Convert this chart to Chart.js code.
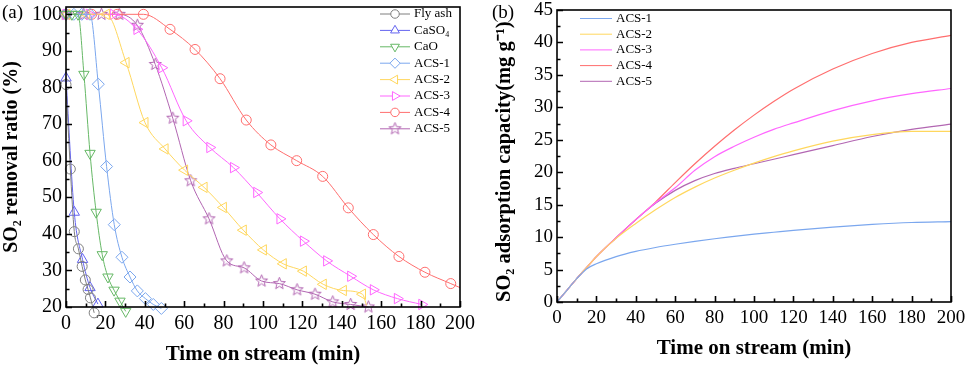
<!DOCTYPE html>
<html>
<head>
<meta charset="utf-8">
<script src="https://cdn.jsdelivr.net/npm/chart.js@4.4.1/dist/chart.umd.min.js"></script>
<style>
body { margin: 0; background: #fff; width: 969px; height: 369px; overflow: hidden; position: relative; }
#wrapA { position: absolute; left: 0; top: 0; width: 480px; height: 369px; }
#wrapB { position: absolute; left: 480px; top: 0; width: 489px; height: 369px; }
.tag { position: absolute; font: 19px "Liberation Serif", serif; color: #000; line-height: 22px; }
</style>
</head>
<body>
<div id="wrapA"><canvas id="chartA"></canvas></div>
<div id="wrapB"><canvas id="chartB"></canvas></div>
<div class="tag" style="left:2px;top:1px">(a)</div>
<div class="tag" style="left:492px;top:1px">(b)</div>
<script>
// (a) SO2 removal ratio vs time
var flyAshT = [0, 2.2, 4.2, 6.3, 8.2, 9.8, 11.2, 12.4, 14.3];
var flyAshV = [80.8, 57.7, 40.6, 35.9, 31.1, 27.4, 24.8, 22.5, 18.4];
var caso4T = [0, 4.2, 8.4, 12.2, 16.2];
var caso4V = [82.6, 45.9, 33.0, 25.3, 20.8];
var caoT = [0, 3, 6.1, 9.1, 12.2, 15.3, 18.4, 21.3, 24.4, 27.4, 30.3];
var caoV = [100, 100, 100, 83.6, 62.0, 45.9, 34.3, 28.2, 24.6, 21.6, 18.8];
var acs1T = [0, 4, 8, 12.2, 16.4, 20.6, 24.5, 28.4, 32.5, 36.2, 40.3, 44.3, 48.4];
var acs1V = [100, 100, 100, 100, 80.9, 58.4, 42.5, 33.6, 28.2, 24.4, 22.3, 20.7, 19.6];
var acs2T = [0.5, 10.5, 20.5, 30.5, 40.1, 50.3, 60.2, 70.1, 79.9, 90, 100.2, 110.3, 120.5, 130.6, 140.8, 150.5, 152.6];
var acs2V = [100, 100, 100, 86.8, 70.4, 63.2, 57.4, 52.7, 47.2, 41.0, 35.6, 31.8, 29.8, 26.2, 24.5, 23.5, 20.4];
var acs3T = [0, 12, 24, 36, 48.6, 61, 73, 85, 96.8, 108.6, 120.5, 132.3, 144.5, 156, 168.2, 180.6];
var acs3V = [100, 100, 100, 95.9, 85.4, 70.9, 63.6, 58.1, 51.3, 44.1, 38.0, 32.6, 28.4, 24.7, 22.3, 20.7];
var acs4T = [0, 13, 26, 39.3, 52.8, 65.5, 78.2, 91.5, 104, 117.1, 130.3, 143.3, 156, 169, 182.2, 195.3, 200];
var acs4V = [100, 100, 100, 100, 95.9, 90.4, 82.4, 71.1, 64.3, 60.0, 55.7, 47.1, 39.8, 33.8, 29.5, 26.4, 25.3];
var acs5T = [0, 9, 18, 27, 36.2, 45.3, 54.2, 63.3, 72.6, 81.6, 90.4, 99.3, 108.3, 117.3, 126.4, 135.4, 144.5, 153.5];
var acs5V = [100, 100, 100, 100, 97.0, 86.3, 71.6, 54.5, 44.1, 32.6, 30.7, 27.1, 26.4, 24.7, 23.5, 21.4, 20.7, 20.0];

// (b) SO2 adsorption capacity vs time
var timeB = [0, 5, 10, 15, 20, 30, 40, 50, 60, 70, 80, 90, 100, 110, 120, 140, 160, 180, 200];
var capACS1 = [0, 1.8, 3.6, 5.1, 5.9, 7.0, 7.8, 8.4, 8.9, 9.35, 9.75, 10.1, 10.45, 10.75, 11.05, 11.55, 11.95, 12.25, 12.4];
var capACS2 = [0, 1.8, 3.6, 5.3, 7.0, 9.8, 12.1, 14.2, 16.1, 17.7, 19.1, 20.3, 21.4, 22.4, 23.3, 24.8, 25.8, 26.3, 26.3];
var capACS3 = [0, 1.8, 3.6, 5.3, 7.0, 9.9, 12.7, 15.3, 17.6, 20.3, 22.4, 24.0, 25.4, 26.6, 27.6, 29.5, 31.0, 32.1, 32.9];
var capACS4 = [0, 1.8, 3.6, 5.3, 7.0, 9.9, 12.7, 15.4, 18.4, 21.3, 24.0, 26.5, 28.8, 30.9, 32.8, 35.9, 38.3, 40.0, 41.1];
var capACS5 = [0, 1.8, 3.6, 5.3, 7.0, 9.9, 12.7, 15.2, 17.2, 18.7, 19.8, 20.6, 21.3, 22.0, 22.7, 24.1, 25.5, 26.6, 27.4];

var xTicks = [0, 20, 40, 60, 80, 100, 120, 140, 160, 180, 200];

var cGray = '#7f7f7f', cBlue = '#6464f0', cGreen = '#66b866', cSky = '#7ba7ee';
var cYellow = '#ffd75e', cPink = '#ff66ff', cRed = '#ff6e6e', cPurple = '#b266b2';

Chart.defaults.font.family = '"Liberation Serif", "Times New Roman", serif';
Chart.defaults.color = '#000';

function starImage(color) {
    var c = document.createElement('canvas');
    c.width = 15; c.height = 15;
    var g = c.getContext('2d');
    g.strokeStyle = color;
    g.lineWidth = 1;
    g.beginPath();
    for (var k = 0; k < 10; k++) {
        var rr = k % 2 ? 2.7 : 6.3;
        var ang = -Math.PI / 2 + k * Math.PI / 5;
        var px = 7.5 + rr * Math.cos(ang), py = 7.5 + rr * Math.sin(ang);
        if (k == 0) g.moveTo(px, py); else g.lineTo(px, py);
    }
    g.closePath();
    g.stroke();
    return c;
}

function series(label, t, v, color, style, rot, r, marks) {
    if (marks == null) marks = t.length;
    return {
        label: label,
        data: t.map(function (tt, i) { return { x: tt, y: v[i] }; }),
        borderColor: color,
        backgroundColor: 'rgba(0,0,0,0)',
        borderWidth: 1,
        pointStyle: style,
        pointRotation: rot,
        markR: r,
        pointRadius: function (c) { return c.dataIndex < marks ? r : 0; },
        pointBorderColor: color,
        pointBackgroundColor: 'rgba(0,0,0,0)',
        pointBorderWidth: 1,
        cubicInterpolationMode: 'monotone',
        clip: false
    };
}

function capLine(label, v, color) {
    return {
        label: label,
        data: timeB.map(function (tt, i) { return { x: tt, y: v[i] }; }),
        borderColor: color,
        borderWidth: 1.2,
        pointRadius: 0,
        cubicInterpolationMode: 'monotone'
    };
}

// frame round the plot area plus inward major/minor ticks
var boxTicks = {
    id: 'boxTicks',
    afterDatasetsDraw: function (chart, args, o) {
        var ctx = chart.ctx, a = chart.chartArea, x = chart.scales.x, y = chart.scales.y;
        ctx.save();
        ctx.strokeStyle = '#000';
        ctx.lineWidth = 1.6;
        ctx.strokeRect(a.left, a.top, a.right - a.left, a.bottom - a.top);
        ctx.beginPath();
        for (var v = o.xMin; v <= o.xMax + 1e-6; v += o.xStep / 2) {
            var px = Math.round(x.getPixelForValue(v)) + 0.5;
            var len = Math.abs(v % o.xStep) < 1e-6 ? 6 : 3.5;
            ctx.moveTo(px, a.bottom); ctx.lineTo(px, a.bottom - len);
        }
        for (var w = o.yMin; w <= o.yMax + 1e-6; w += o.yStep / 2) {
            var py = Math.round(y.getPixelForValue(w)) + 0.5;
            var len2 = Math.abs((w - o.yMin) % o.yStep) < 1e-6 ? 6 : 3.5;
            ctx.moveTo(a.left, py); ctx.lineTo(a.left + len2, py);
        }
        ctx.stroke();
        ctx.restore();
    }
};

var insideLegend = {
    id: 'insideLegend',
    afterDraw: function (chart, args, o) {
        var ctx = chart.ctx;
        ctx.save();
        ctx.font = '13px "Liberation Serif", serif';
        ctx.textBaseline = 'middle';
        chart.data.datasets.forEach(function (ds, i) {
            var yy = o.y + i * o.gap;
            ctx.strokeStyle = ds.borderColor;
            ctx.lineWidth = 1;
            ctx.beginPath();
            ctx.moveTo(o.x, yy); ctx.lineTo(o.x + o.len, yy);
            ctx.stroke();
            if (o.markers) {
                ctx.fillStyle = '#fff';
                Chart.helpers.drawPoint(ctx, {
                    pointStyle: ds.pointStyle, rotation: ds.pointRotation,
                    radius: ds.markR * 0.85, borderWidth: 1
                }, o.x + o.len / 2, yy);
            }
            ctx.fillStyle = '#000';
            ctx.fillText(ds.label, o.x + o.len + 4, yy);
        });
        ctx.restore();
    }
};

function noPad(s) { s.paddingTop = 0; s.paddingBottom = 0; s.paddingLeft = 0; s.paddingRight = 0; }

var chartA = new Chart(document.getElementById('chartA'), {
    type: 'line',
    data: {
        datasets: [
            series('Fly ash', flyAshT, flyAshV, cGray, 'circle', 0, 5),
            series('CaSO₄', caso4T, caso4V, cBlue, 'triangle', 0, 6),
            series('CaO', caoT, caoV, cGreen, 'triangle', 180, 6),
            series('ACS-1', acs1T, acs1V, cSky, 'rectRot', 0, 6),
            series('ACS-2', acs2T, acs2V, cYellow, 'triangle', 270, 6, 16),
            series('ACS-3', acs3T, acs3V, cPink, 'triangle', 90, 6),
            series('ACS-4', acs4T, acs4V, cRed, 'circle', 0, 5, 16),
            series('ACS-5', acs5T, acs5V, cPurple, starImage(cPurple), 0, 6)
        ]
    },
    options: {
        animation: false,
        responsive: true,
        maintainAspectRatio: false,
        devicePixelRatio: 1,
        events: [],
        layout: { padding: { top: 5, right: 20, bottom: 0, left: 0 } },
        plugins: {
            legend: { display: false },
            tooltip: { enabled: false },
            boxTicks: { xMin: 0, xMax: 200, xStep: 20, yMin: 20, yMax: 100, yStep: 10 },
            insideLegend: { x: 380, len: 30, y: 14, gap: 16.4, markers: true }
        },
        scales: {
            x: {
                type: 'linear', min: 0, max: 200,
                grid: { display: false, drawTicks: false },
                border: { display: false },
                afterBuildTicks: function (s) { s.ticks = xTicks.map(function (v) { return { value: v }; }); },
                ticks: { font: { size: 20 }, padding: 5, maxRotation: 0 },
                title: { display: true, text: 'Time on stream (min)', font: { size: 21, weight: 'bold' }, padding: { top: 0, bottom: 2 } },
                afterFit: function (s) { s.height = 62; noPad(s); }
            },
            y: {
                type: 'linear', min: 20, max: 102,
                grid: { display: false, drawTicks: false },
                border: { display: false },
                ticks: { stepSize: 10, includeBounds: false, font: { size: 20 }, padding: 4 },
                title: { display: true, text: 'SO₂ removal ratio (%)', font: { size: 20, weight: 'bold' }, padding: { top: 0, bottom: 0 } },
                afterFit: function (s) { s.width = 66; noPad(s); }
            }
        }
    },
    plugins: [boxTicks, insideLegend]
});

var chartB = new Chart(document.getElementById('chartB'), {
    type: 'line',
    data: {
        datasets: [
            capLine('ACS-1', capACS1, cSky),
            capLine('ACS-2', capACS2, cYellow),
            capLine('ACS-3', capACS3, cPink),
            capLine('ACS-4', capACS4, cRed),
            capLine('ACS-5', capACS5, cPurple)
        ]
    },
    options: {
        animation: false,
        responsive: true,
        maintainAspectRatio: false,
        devicePixelRatio: 1,
        events: [],
        layout: { padding: { top: 10, right: 18, bottom: 0, left: 0 } },
        plugins: {
            legend: { display: false },
            tooltip: { enabled: false },
            boxTicks: { xMin: 0, xMax: 200, xStep: 20, yMin: 0, yMax: 45, yStep: 5 },
            insideLegend: { x: 100, len: 32, y: 18.5, gap: 15.7, markers: false }
        },
        scales: {
            x: {
                type: 'linear', min: 0, max: 200,
                grid: { display: false, drawTicks: false },
                border: { display: false },
                afterBuildTicks: function (s) { s.ticks = xTicks.map(function (v) { return { value: v }; }); },
                ticks: { font: { size: 19 }, padding: 5, maxRotation: 0 },
                title: { display: true, text: 'Time on stream (min)', font: { size: 21, weight: 'bold' }, padding: { top: 0, bottom: 8 } },
                afterFit: function (s) { s.height = 67; noPad(s); }
            },
            y: {
                type: 'linear', min: 0, max: 45,
                grid: { display: false, drawTicks: false },
                border: { display: false },
                ticks: { stepSize: 5, font: { size: 19 }, padding: 4 },
                title: { display: true, align: 'start', text: 'SO₂ adsorption capacity(mg g⁻¹)', font: { size: 20.5, weight: 'bold' }, padding: { top: 12, bottom: 0 } },
                afterFit: function (s) { s.width = 77; noPad(s); }
            }
        }
    },
    plugins: [boxTicks, insideLegend]
});
</script>
</body>
</html>
